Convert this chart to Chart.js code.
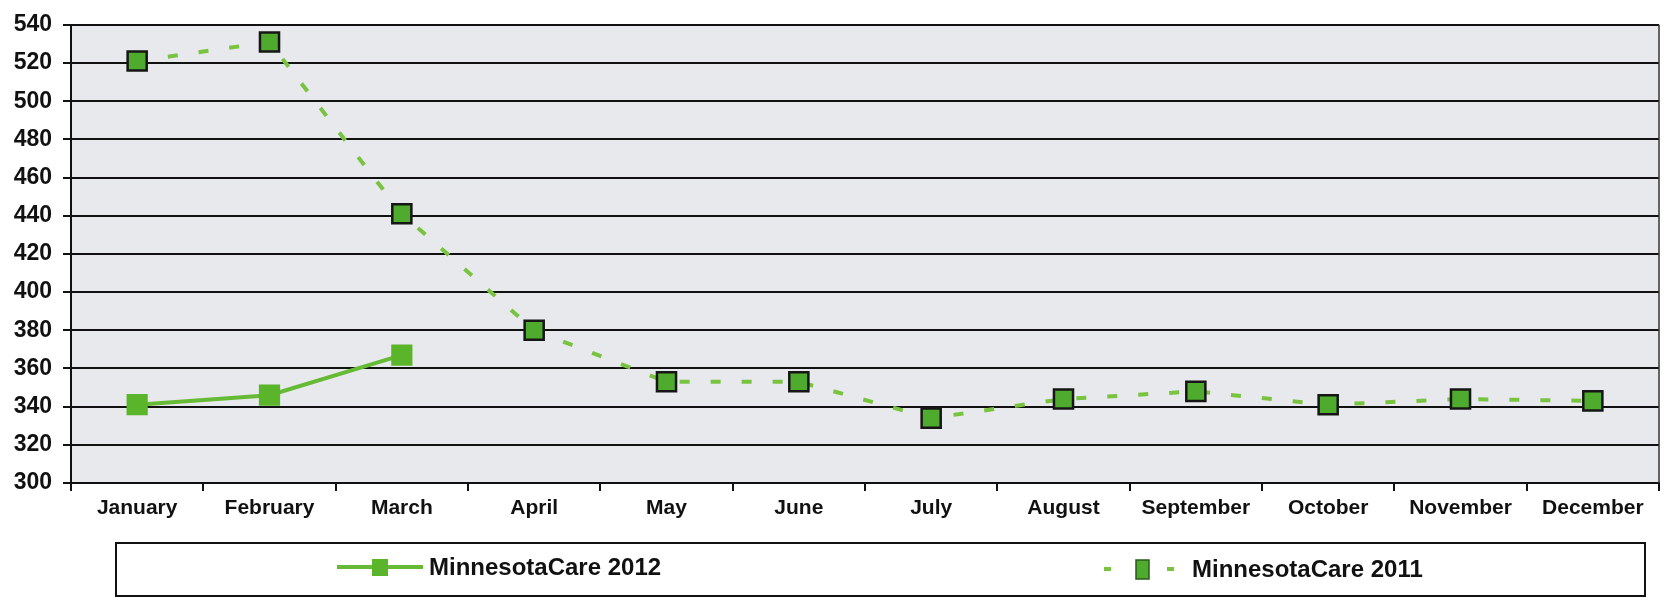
<!DOCTYPE html>
<html>
<head>
<meta charset="utf-8">
<script src="https://cdn.jsdelivr.net/npm/chart.js@4/dist/chart.umd.min.js"></script>
<style>
  html, body { margin: 0; padding: 0; background: #fff; }
  #wrap { width: 1675px; height: 600px; position: relative; }
</style>
</head>
<body>
<div id="wrap"><canvas id="myChart" width="1675" height="600"></canvas></div>
<script>
const months = ["January", "February", "March", "April", "May", "June",
  "July", "August", "September", "October", "November", "December"];
const care2012 = [341, 346, 367];
const care2011 = [521, 531, 441, 380, 353, 353, 334, 344, 348, 341, 344, 343];
const yTicks = [300, 320, 340, 360, 380, 400, 420, 440, 460, 480, 500, 520, 540];

const fontName = "'Liberation Sans', Arial, sans-serif";

// grey plot background + right edge line
const plotBg = {
  id: "plotBg",
  beforeDraw(chart) {
    const { ctx, chartArea: a } = chart;
    ctx.save();
    ctx.fillStyle = "#e8e9ec";
    ctx.fillRect(a.left, a.top, a.right - a.left, a.bottom - a.top);
    ctx.restore();
  },
  afterDatasetsDraw(chart) {
    const { ctx, chartArea: a } = chart;
    ctx.save();
    ctx.strokeStyle = "#333";
    ctx.lineWidth = 1.5;
    ctx.beginPath();
    ctx.moveTo(a.right, a.top);
    ctx.lineTo(a.right, a.bottom);
    ctx.stroke();
    ctx.restore();
  }
};

// boxed legend under the chart
const boxLegend = {
  id: "boxLegend",
  afterDraw(chart) {
    const ctx = chart.ctx;
    const ds = chart.data.datasets;
    ctx.save();
    ctx.strokeStyle = "#111";
    ctx.lineWidth = 2;
    ctx.strokeRect(116, 543, 1529, 53);

    ctx.font = "bold 24px " + fontName;
    ctx.fillStyle = "#111";
    ctx.textBaseline = "middle";

    // 2012: solid line with square
    let y = 567;
    ctx.strokeStyle = ds[0].borderColor;
    ctx.lineWidth = 4;
    ctx.beginPath();
    ctx.moveTo(337, y);
    ctx.lineTo(423, y);
    ctx.stroke();
    ctx.fillStyle = ds[0].pointBackgroundColor;
    ctx.fillRect(372, y - 8, 16, 17);
    ctx.fillStyle = "#111";
    ctx.fillText(ds[0].label, 429, y + 1);

    // 2011: dashes with square
    y = 569;
    ctx.fillStyle = ds[1].borderColor;
    ctx.fillRect(1104, y - 2, 7, 4);
    ctx.fillRect(1167, y - 2, 7, 4);
    ctx.fillStyle = ds[1].pointBackgroundColor;
    ctx.fillRect(1136, y - 9, 13, 19);
    ctx.strokeStyle = "#2a5a1a";
    ctx.lineWidth = 1.5;
    ctx.strokeRect(1136, y - 9, 13, 19);
    ctx.fillStyle = "#111";
    ctx.fillText(ds[1].label, 1192, y + 1);
    ctx.restore();
  }
};

const ctx = document.getElementById("myChart").getContext("2d");
const myChart = new Chart(ctx, {
  type: "line",
  data: {
    labels: months,
    datasets: [
      {
        label: "MinnesotaCare 2012",
        data: care2012,
        borderColor: "#66ba36",
        borderWidth: 4,
        pointStyle: "rect",
        pointRadius: 15,
        pointBackgroundColor: "#5ab52b",
        pointBorderColor: "#5ab52b",
        pointBorderWidth: 0,
        tension: 0
      },
      {
        label: "MinnesotaCare 2011",
        data: care2011,
        borderColor: "#78c340",
        borderWidth: 4,
        borderDash: [10, 21],
        pointStyle: "rect",
        pointRadius: 13.5,
        pointBackgroundColor: "#4fab2d",
        pointBorderColor: "#161616",
        pointBorderWidth: 2.5,
        tension: 0
      }
    ]
  },
  options: {
    responsive: false,
    animation: false,
    layout: { padding: { top: 17, right: 2, left: 0, bottom: 0 } },
    plugins: {
      legend: { display: false },
      tooltip: { enabled: false }
    },
    scales: {
      x: {
        offset: true,
        grid: {
          offset: true,
          drawOnChartArea: false,
          drawTicks: true,
          tickLength: 8,
          color: "#111",
          lineWidth: 2
        },
        border: { color: "#111", width: 2 },
        ticks: {
          color: "#111",
          padding: 5,
          maxRotation: 0,
          autoSkip: false,
          font: { family: fontName, size: 21, weight: "bold" }
        },
        afterFit(scale) { scale.height = 117; }
      },
      y: {
        min: yTicks[0],
        max: yTicks[yTicks.length - 1],
        afterBuildTicks(scale) { scale.ticks = yTicks.map(v => ({ value: v })); },
        grid: {
          color: "#111",
          lineWidth: 2,
          tickLength: 8
        },
        border: { color: "#111", width: 2 },
        ticks: {
          color: "#111",
          padding: 11,
          font: { family: fontName, size: 23, weight: "bold" }
        },
        afterFit(scale) { scale.width = 71; }
      }
    }
  },
  plugins: [plotBg, boxLegend]
});
</script>
</body>
</html>
